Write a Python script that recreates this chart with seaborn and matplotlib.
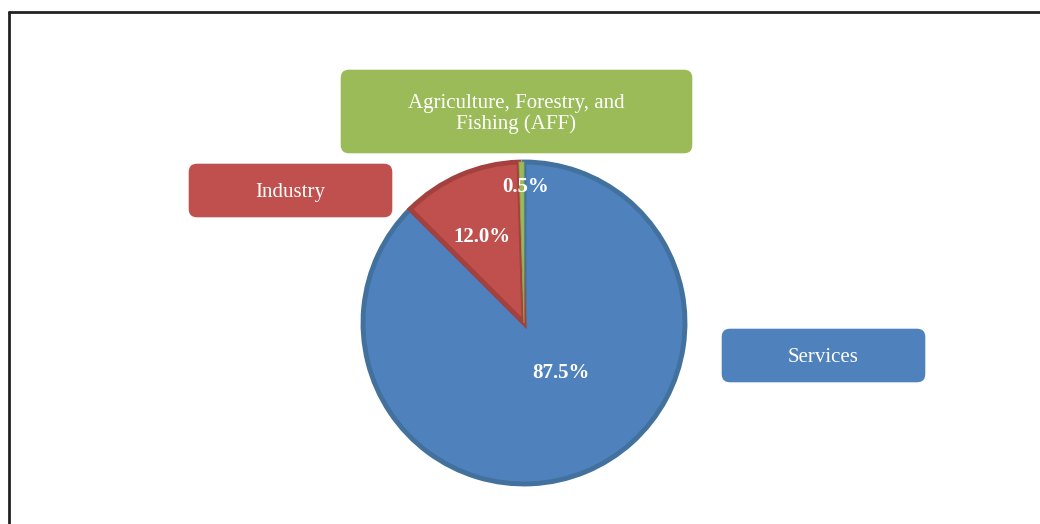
import matplotlib
import matplotlib.pyplot as plt
import seaborn as sns
from matplotlib.lines import Line2D
from matplotlib.patches import FancyBboxPatch

matplotlib.use("Agg")

# data, in drawing order (clockwise from 12 o'clock)
sectors = ["Services", "Industry", "Agriculture, Forestry, and\nFishing (AFF)"]
shares  = [87.5, 12.0, 0.5]

fills = ["#4F81BD", "#C0504D", "#9BBB59"]
edges = ["#41719C", "#A4413E", "#8AAA4E"]
edge_w = [3.5, 3.5, 0.6]

W, H = 1040, 524


def py(y):
    """pixel row (from top) -> data y (from bottom)"""
    return H - y


sns.set_theme(style="white")
plt.rcParams["font.family"] = ["Liberation Serif", "DejaVu Serif"]

fig = plt.figure(figsize=(W / 100, H / 100), dpi=100)
ax = fig.add_axes([0, 0, 1, 1])

center = (524, py(323))
radius = 161

wedges, _, autotexts = ax.pie(
    shares,
    colors=fills,
    startangle=90,
    counterclock=False,
    center=center,
    radius=radius,
    autopct=lambda p: f"{p:.1f}%",
    pctdistance=0.6,
    frame=True,
    textprops=dict(color="white", fontsize=15, fontweight="bold"),
)
for w, ec, lw in zip(wedges, edges, edge_w):
    w.set_edgecolor(ec)
    w.set_linewidth(lw)

# percentage labels sit where the original placed them
pct_pos = [(561, 373), (482, 237), (526, 187)]
for t, (x, y) in zip(autotexts, pct_pos):
    t.set_position((x, py(y)))
    t.set_ha("center")
    t.set_va("center")
    t.set_zorder(5)

# category callout boxes: (left, top, right, bottom) in pixels
boxes = [(721, 328, 926, 383), (188, 163, 393, 218), (340, 69, 693, 154)]
for name, col, (x0, y0, x1, y1) in zip(sectors, fills, boxes):
    ax.add_patch(FancyBboxPatch(
        (x0, py(y1)), x1 - x0, y1 - y0,
        boxstyle="round,pad=0,rounding_size=9",
        facecolor=col, edgecolor="white", linewidth=1, zorder=3,
    ))
    ax.text((x0 + x1) / 2, py((y0 + y1) / 2 + 2.5), name,
            ha="center", va="center", color="white", fontsize=15,
            linespacing=1.15, zorder=4)

ax.set_xlim(0, W)
ax.set_ylim(0, H)
ax.set_aspect("equal")
ax.axis("off")

# chart-area frame: only left and top edges are visible in the crop
fig.add_artist(Line2D([8.5 / W, 8.5 / W], [0, py(12) / H], color="#222222", lw=2))
fig.add_artist(Line2D([8.5 / W, 1], [py(12) / H, py(12) / H], color="#222222", lw=2))

fig.savefig("out.png", dpi=100, facecolor="white")
plt.close(fig)
